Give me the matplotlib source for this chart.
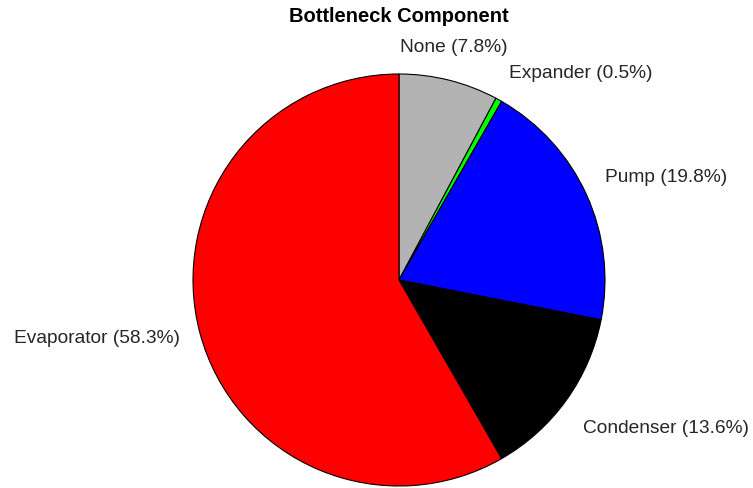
import matplotlib
matplotlib.use("Agg")
import matplotlib.pyplot as plt

# data
components = ["None", "Expander", "Pump", "Condenser", "Evaporator"]
shares = [7.8, 0.5, 19.8, 13.6, 58.3]
slice_colors = ["#B3B3B3", "#00FF00", "#0000FF", "#000000", "#FF0000"]

# label alignment (MATLAB-style placement around the pie)
label_ha = ["center", "left", "left", "left", "right"]
label_va = ["bottom", "bottom", "bottom", "top", "center"]
label_dy = [0.02, 0.0, 0.0, -0.04, 0.0]

plt.rcParams["font.family"] = ["Liberation Sans", "DejaVu Sans"]

fig = plt.figure(figsize=(7.53, 4.88), dpi=100)
ax = fig.add_axes([193 / 753, 2 / 488, 412 / 753, 412 / 488])

labels = [f"{name} ({val:.1f}%)" for name, val in zip(components, shares)]
wedges, texts = ax.pie(
  shares,
  labels=labels,
  colors=slice_colors,
  startangle=90,
  counterclock=False,
  labeldistance=1.1,
  wedgeprops=dict(edgecolor="black", linewidth=0.8),
  textprops=dict(fontsize=13.8, color="#262626"),
)
for t, ha, va, dy in zip(texts, label_ha, label_va, label_dy):
  t.set_ha(ha)
  t.set_va(va)
  x, y = t.get_position()
  t.set_position((x, y + dy))

ax.set_xlim(-1.0, 1.0)
ax.set_ylim(-1.0, 1.0)
ax.set_aspect("equal")
ax.axis("off")

fig.text(399 / 753, 1 - 17 / 488, "Bottleneck Component",
         ha="center", va="center", fontsize=14.5, fontweight="bold")

fig.savefig("out.png", dpi=100)
